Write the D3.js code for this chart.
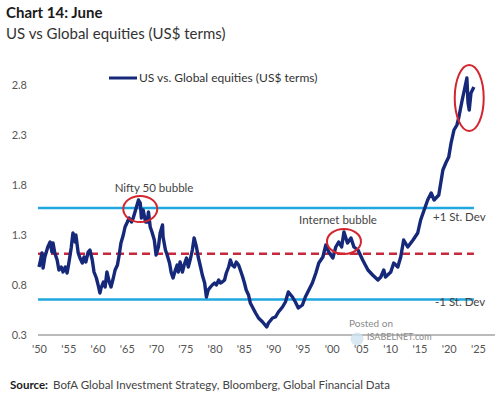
<!DOCTYPE html>
<html>
<head>
<meta charset="utf-8">
<script src="https://cdn.jsdelivr.net/npm/d3@7"></script>
<style>
  body { margin: 0; background: #fff; }
  text { font-family: Lato, "Liberation Sans", sans-serif; }
</style>
</head>
<body>
<div id="chart"></div>
<script>
// chart data
const years = [1950.0, 1950.2, 1950.5, 1950.7, 1951.0, 1951.5, 1951.9, 1952.2, 1952.4, 1952.7, 1953.1, 1953.4, 1953.8, 1954.1, 1954.5, 1954.8,
  1955.1, 1955.5, 1955.8, 1956.2, 1956.3, 1956.7, 1957.0, 1957.4, 1957.7, 1958.0, 1958.4, 1958.7, 1959.1, 1959.4, 1959.8,
  1960.1, 1960.4, 1960.6, 1961.0, 1961.3, 1961.6, 1962.0, 1962.3, 1962.7, 1963.0, 1963.4, 1963.7, 1964.0, 1964.4, 1964.7,
  1965.1, 1965.4, 1965.8, 1966.1, 1966.6, 1967.0, 1967.3, 1967.5, 1967.8, 1968.2, 1968.5, 1968.7, 1969.0, 1969.3, 1969.7,
  1970.0, 1970.4, 1970.7, 1971.1, 1971.2, 1971.6, 1971.9, 1972.3, 1972.6, 1972.9, 1973.3, 1973.6, 1973.8, 1974.1, 1974.5, 1974.8,
  1975.2, 1975.5, 1975.9, 1976.2, 1976.5, 1976.9, 1977.2, 1977.6, 1977.9, 1978.3, 1978.6, 1978.9, 1979.3, 1979.6,
  1980.0, 1980.3, 1980.7, 1981.0, 1981.3, 1981.7, 1982.0, 1982.4, 1982.7, 1983.0, 1983.4, 1983.7, 1984.1, 1984.4, 1984.8,
  1985.1, 1985.4, 1985.8, 1986.1, 1987.0, 1987.5, 1988.2, 1988.9, 1989.2, 1989.9, 1990.4, 1990.9, 1991.6, 1992.1, 1992.6,
  1993.3, 1993.8, 1994.3, 1995.0, 1995.5, 1996.1, 1996.7, 1997.3, 1997.8, 1998.5, 1999.0, 1999.5,
  2000.2, 2000.7, 2001.2, 2001.7, 2002.1, 2002.7, 2003.3, 2003.8, 2004.5, 2005.3, 2006.2, 2007.0, 2007.9, 2008.4, 2008.9, 2009.2,
  2010.1, 2010.6, 2011.3, 2011.8, 2012.3, 2013.0, 2013.9, 2014.7, 2015.2, 2015.8, 2016.4, 2017.0, 2017.5, 2018.3,
  2019.0, 2019.5, 2020.0, 2020.4, 2020.9, 2021.4, 2021.7, 2022.3, 2022.6, 2023.1, 2023.3, 2023.5, 2023.8, 2024.3];
const ratio = [0.98, 1.03, 1.12, 0.97, 1.08, 1.18, 1.23, 1.13, 1.22, 1.12, 1.05, 0.95, 0.98, 0.93, 0.98, 0.92,
  1.02, 1.17, 1.32, 1.23, 1.30, 1.12, 1.07, 1.02, 1.08, 1.03, 1.13, 1.15, 1.05, 0.93, 0.87,
  0.80, 0.72, 0.77, 0.83, 0.78, 0.93, 0.83, 0.78, 0.87, 0.95, 1.00, 1.10, 1.22, 1.30, 1.38,
  1.43, 1.47, 1.43, 1.47, 1.57, 1.65, 1.62, 1.47, 1.55, 1.43, 1.43, 1.53, 1.38, 1.33, 1.25,
  1.10, 1.18, 1.32, 1.40, 1.28, 1.15, 1.10, 1.02, 0.92, 0.87, 0.95, 1.00, 0.93, 1.03, 0.93, 1.00,
  1.07, 0.98, 1.07, 1.15, 1.27, 1.18, 1.08, 0.98, 0.90, 0.82, 0.68, 0.75, 0.78, 0.80,
  0.82, 0.80, 0.85, 0.82, 0.83, 0.85, 0.92, 0.98, 1.05, 1.00, 0.98, 1.03, 1.00, 0.95, 0.88,
  0.82, 0.75, 0.70, 0.62, 0.52, 0.47, 0.43, 0.38, 0.42, 0.47, 0.48, 0.53, 0.58, 0.63, 0.73,
  0.68, 0.63, 0.57, 0.60, 0.68, 0.75, 0.82, 0.92, 1.02, 1.08, 1.20, 1.13,
  1.07, 1.18, 1.23, 1.18, 1.33, 1.22, 1.27, 1.18, 1.15, 1.05, 0.95, 0.90, 0.85, 0.88, 0.95, 0.88,
  0.93, 1.02, 0.98, 1.08, 1.25, 1.18, 1.25, 1.32, 1.45, 1.55, 1.65, 1.72, 1.65, 1.70,
  1.95, 2.02, 2.08, 2.22, 2.35, 2.40, 2.47, 2.65, 2.73, 2.87, 2.62, 2.55, 2.72, 2.78];

const meanValue = 1.113;
const stdDev = 0.457;
const yTicks = [0.3, 0.8, 1.3, 1.8, 2.3, 2.8];
const xTicks = [1950, 1955, 1960, 1965, 1970, 1975, 1980, 1985, 1990, 1995, 2000, 2005, 2010, 2015, 2020, 2025];

// highlighted episodes
const bubbles = [
  { name: 'Nifty 50 bubble', year: 1967.3, value: 1.56 },
  { name: 'Internet bubble', year: 2002.1, value: 1.235 },
  { name: '', year: 2023.5, value: 2.67 }
];

const width = 500, height = 396;

const svg = d3.select('#chart')
  .append('svg')
  .attr('width', width)
  .attr('height', height);

const x = d3.scaleLinear().domain([1950, 2025]).range([39, 478]);
const y = d3.scaleLinear().domain([0.3, 2.8]).range([335, 85]);

// titles
svg.append('text').attr('x', 6).attr('y', 18)
  .style('font-size', '15px').style('font-weight', 700).attr('fill', '#1a1a1a')
  .text('Chart 14: June');
svg.append('text').attr('x', 6).attr('y', 39)
  .style('font-size', '15px').attr('fill', '#333')
  .text('US vs Global equities (US$ terms)');

// y labels
svg.append('g')
  .selectAll('text')
  .data(yTicks)
  .enter()
  .append('text')
  .attr('x', 27)
  .attr('y', d => y(d) + 4)
  .attr('text-anchor', 'end')
  .attr('fill', '#555')
  .style('font-size', '11px')
  .text(d => d.toFixed(1));

// x axis
const xAxis = svg.append('g')
  .attr('transform', 'translate(0,335)')
  .call(d3.axisBottom(x).tickValues(xTicks).tickSize(0).tickPadding(10)
    .tickFormat(d => "'" + String(d).slice(2)));
xAxis.select('.domain').remove();
xAxis.selectAll('text')
  .attr('fill', '#555')
  .style('font-size', '11px')
  .style('font-family', 'Lato, sans-serif');

svg.append('line')
  .attr('x1', x(1950) - 1).attr('x2', x(2027.9))
  .attr('y1', y(0.3)).attr('y2', y(0.3))
  .attr('stroke', '#777').attr('stroke-width', 1.2);

// +/- 1 st dev and mean
const lineEnd = 2024.3;
[meanValue + stdDev, meanValue - stdDev].forEach(v => {
  svg.append('line')
    .attr('x1', x(1950) - 1).attr('x2', x(lineEnd))
    .attr('y1', y(v)).attr('y2', y(v))
    .attr('stroke', '#21a7df').attr('stroke-width', 2.5);
});
svg.append('line')
  .attr('x1', x(1950) - 1).attr('x2', x(lineEnd))
  .attr('y1', y(meanValue)).attr('y2', y(meanValue))
  .attr('stroke', '#c8283c').attr('stroke-width', 2.5)
  .attr('stroke-dasharray', '8,5');

// watermark (under the series)
svg.append('text').attr('x', 349).attr('y', 327)
  .attr('fill', '#8a8a8a').style('font-size', '10px').text('Posted on');
svg.append('circle').attr('cx', 357).attr('cy', 339).attr('r', 6.5)
  .attr('fill', '#cfe3f1').attr('opacity', 0.8);
svg.append('text').attr('x', 367).attr('y', 340)
  .attr('fill', '#8a8a8a').style('font-size', '9px').text('ISABELNET.com');

// main series
const series = years.map((yr, i) => ({ year: yr, value: ratio[i] }));
const line = d3.line()
  .x(d => x(d.year))
  .y(d => y(d.value));

svg.append('path')
  .datum(series)
  .attr('d', line)
  .attr('fill', 'none')
  .attr('stroke', '#16287a')
  .attr('stroke-width', 3.4)
  .attr('stroke-linejoin', 'round');

// circles round the bubbles
const radii = [[17, 13], [17, 12.5], [14.5, 33]];
svg.append('g')
  .selectAll('ellipse')
  .data(bubbles)
  .enter()
  .append('ellipse')
  .attr('cx', d => x(d.year))
  .attr('cy', d => y(d.value))
  .attr('rx', (d, i) => radii[i][0])
  .attr('ry', (d, i) => radii[i][1])
  .attr('fill', 'none')
  .attr('stroke', '#d3262e')
  .attr('stroke-width', 2);

// annotations
svg.append('text').attr('x', 154).attr('y', 192).attr('text-anchor', 'middle')
  .attr('fill', '#444').style('font-size', '11.5px').text(bubbles[0].name);
svg.append('text').attr('x', 338).attr('y', 224).attr('text-anchor', 'middle')
  .attr('fill', '#444').style('font-size', '11.5px').text(bubbles[1].name);
svg.append('text').attr('x', 433).attr('y', 221)
  .attr('fill', '#444').style('font-size', '11.5px').text('+1 St. Dev');
svg.append('text').attr('x', 435).attr('y', 306)
  .attr('fill', '#444').style('font-size', '11.5px').text('-1 St. Dev');

// legend
svg.append('line')
  .attr('x1', 109).attr('x2', 137).attr('y1', 78).attr('y2', 78)
  .attr('stroke', '#16287a').attr('stroke-width', 3);
svg.append('text').attr('x', 139).attr('y', 82)
  .attr('fill', '#333').style('font-size', '12px')
  .text('US vs. Global equities (US$ terms)');

// source
const src = svg.append('text').attr('x', 10).attr('y', 389).style('font-size', '11.5px');
src.append('tspan').style('font-weight', 700).attr('fill', '#1a1a1a').text('Source:');
src.append('tspan').attr('dx', 5).attr('fill', '#444')
  .text('BofA Global Investment Strategy, Bloomberg, Global Financial Data');
</script>
</body>
</html>
